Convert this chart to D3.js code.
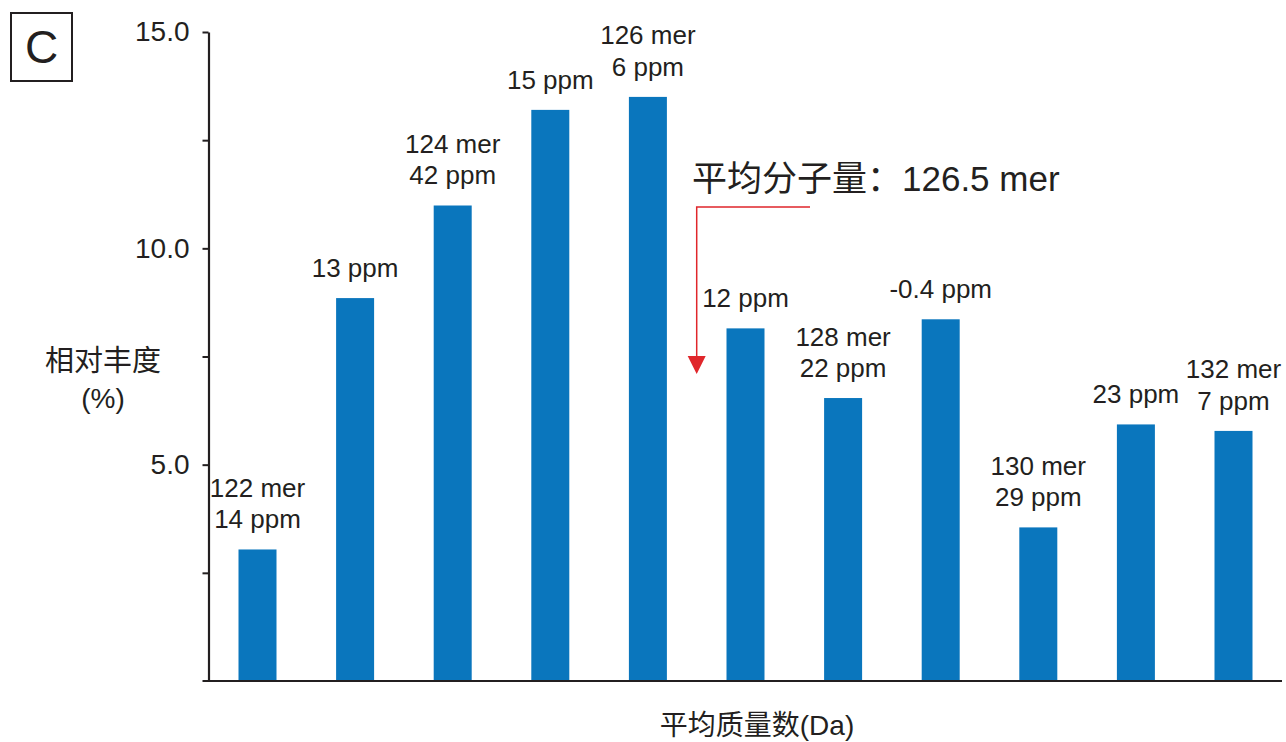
<!DOCTYPE html>
<html>
<head>
<meta charset="utf-8">
<script src="https://cdn.jsdelivr.net/npm/d3@7/dist/d3.min.js"></script>
<style>
  html, body { margin: 0; padding: 0; background: #fff; }
  svg { display: block; font-family: "Liberation Sans", Arial, "Noto Sans CJK SC", sans-serif; }
</style>
</head>
<body>
<svg id="chart" width="1286" height="742"></svg>
<script>
// Oligomer length (mer) of each bar
const masses = [122, 123, 124, 125, 126, 127, 128, 129, 130, 131, 132];
// Relative abundance (%)
const abundance = [3.04, 8.85, 10.99, 13.2, 13.5, 8.15, 6.54, 8.36, 3.55, 5.93, 5.78];
// First label line (oligomer name), blank where not shown
const merLabels = ["122 mer", "", "124 mer", "", "126 mer", "", "128 mer", "", "130 mer", "", "132 mer"];
// Mass error labels
const ppmLabels = ["14 ppm", "13 ppm", "42 ppm", "15 ppm", "6 ppm", "12 ppm", "22 ppm", "-0.4 ppm", "29 ppm", "23 ppm", "7 ppm"];
// Y axis ticks
const yTicks = [2.5, 5, 7.5, 10, 12.5, 15];
const yTickLabels = ["", "5.0", "", "10.0", "", "15.0"];
// Average molecular weight
const averageMer = 126.5;
const averageLabel = "平均分子量：126.5 mer";

const svg = d3.select("#chart");
const ink = "#231f20";
const barColor = "#0a76bd";

const x = d3.scaleLinear().domain([122, 132]).range([257.5, 1233.5]);
const y = d3.scaleLinear().domain([0, 15]).range([681, 32]);
const barWidth = 38;
const axisX = 208.5;

// Bars
svg.append("g").selectAll("rect")
  .data(masses)
  .join("rect")
  .attr("x", (d) => x(d) - barWidth / 2)
  .attr("width", barWidth)
  .attr("y", (d, i) => y(abundance[i]))
  .attr("height", (d, i) => y(0) - y(abundance[i]))
  .attr("fill", barColor);

// Y axis
const yAxis = d3.axisLeft(y)
  .tickValues(yTicks)
  .tickFormat((d, i) => yTickLabels[i])
  .tickSize(6)
  .tickSizeOuter(0)
  .tickPadding(13);
const gy = svg.append("g").attr("transform", `translate(${axisX},0)`).call(yAxis);
gy.select(".domain").attr("stroke", ink).attr("stroke-width", 2.2);
gy.selectAll(".tick line").attr("stroke", ink).attr("stroke-width", 2);
gy.selectAll(".tick text")
  .attr("fill", ink)
  .style("font-size", "28px")
  .style("font-family", "'Liberation Sans', Arial, sans-serif");

// Baseline
svg.append("line")
  .attr("x1", axisX - 6).attr("x2", 1282)
  .attr("y1", y(0)).attr("y2", y(0))
  .attr("stroke", ink).attr("stroke-width", 2.2);

// Value labels above bars
const labelGroup = svg.append("g")
  .attr("fill", ink)
  .attr("text-anchor", "middle")
  .style("font-size", "26px");
masses.forEach((m, i) => {
  const top = y(abundance[i]);
  labelGroup.append("text")
    .attr("x", x(m))
    .attr("y", top - 21)
    .text(ppmLabels[i]);
  if (merLabels[i]) {
    labelGroup.append("text")
      .attr("x", x(m))
      .attr("y", top - 21 - 31.5)
      .text(merLabels[i]);
  }
});

// Average marker: text, elbow line and arrowhead
const ax = x(averageMer);
svg.append("text")
  .attr("x", 692).attr("y", 191)
  .attr("fill", ink)
  .style("font-size", "35px")
  .text(averageLabel);
svg.append("path")
  .attr("d", `M810,207H${ax}V358`)
  .attr("fill", "none")
  .attr("stroke", "#e0262b")
  .attr("stroke-width", 1.5);
svg.append("path")
  .attr("d", `M${ax - 9},356L${ax + 9},356L${ax},374Z`)
  .attr("fill", "#e0262b");

// Axis titles
svg.append("text")
  .attr("x", 103).attr("y", 371)
  .attr("text-anchor", "middle")
  .attr("fill", ink)
  .style("font-size", "29px")
  .text("相对丰度");
svg.append("text")
  .attr("x", 103).attr("y", 408)
  .attr("text-anchor", "middle")
  .attr("fill", ink)
  .style("font-size", "28px")
  .text("(%)");
svg.append("text")
  .attr("x", 757).attr("y", 735)
  .attr("text-anchor", "middle")
  .attr("fill", ink)
  .style("font-size", "28px")
  .text("平均质量数(Da)");

// Panel letter
svg.append("rect")
  .attr("x", 11).attr("y", 13)
  .attr("width", 61).attr("height", 68)
  .attr("fill", "none")
  .attr("stroke", ink)
  .attr("stroke-width", 2);
svg.append("text")
  .attr("x", 41.5).attr("y", 63)
  .attr("text-anchor", "middle")
  .attr("fill", ink)
  .style("font-size", "46px")
  .text("C");
</script>
</body>
</html>
